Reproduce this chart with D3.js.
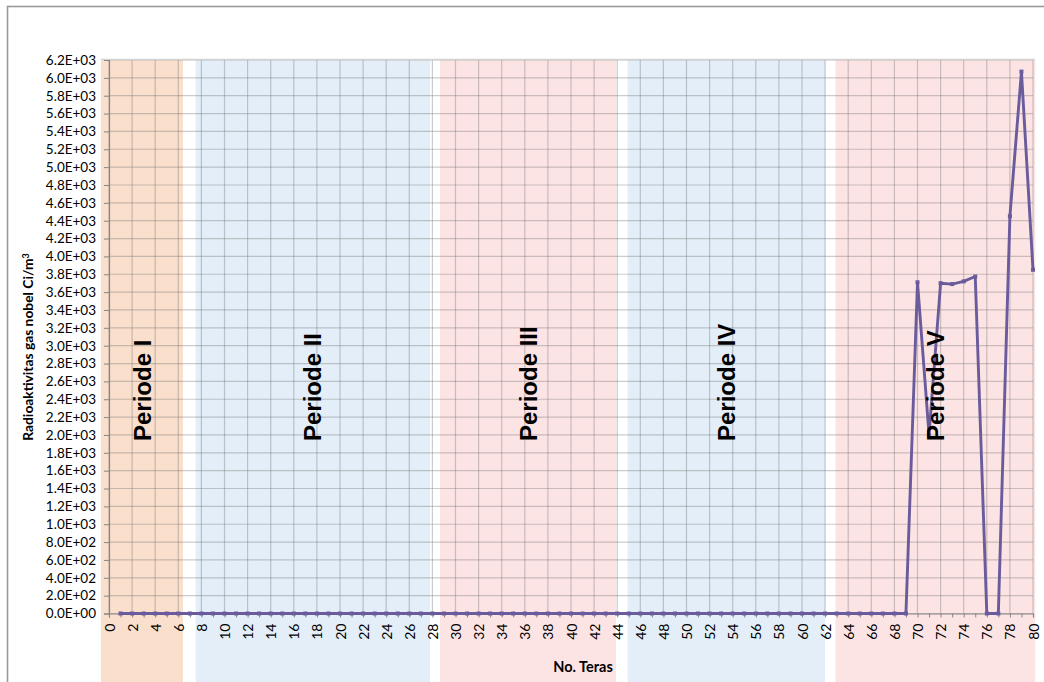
<!DOCTYPE html>
<html>
<head>
<meta charset="utf-8">
<script src="https://cdn.jsdelivr.net/npm/d3@7"></script>
<style>
  html, body { margin: 0; padding: 0; background: #fff; }
  svg { display: block; }
</style>
</head>
<body>
<script>
// Core number (teras) on the x axis
const teras = [
  1, 2, 3, 4, 5, 6, 7, 8, 9, 10, 11, 12, 13, 14, 15, 16, 17, 18, 19, 20,
  21, 22, 23, 24, 25, 26, 27, 28, 29, 30, 31, 32, 33, 34, 35, 36, 37, 38, 39, 40,
  41, 42, 43, 44, 45, 46, 47, 48, 49, 50, 51, 52, 53, 54, 55, 56, 57, 58, 59, 60,
  61, 62, 63, 64, 65, 66, 67, 68, 69, 70, 71, 72, 73, 74, 75, 76, 77, 78, 79, 80
];

// Noble gas radioactivity (Ci/m3) per core
const radioaktivitas = [
  0, 0, 0, 0, 0, 0, 0, 0, 0, 0, 0, 0, 0, 0, 0, 0, 0, 0, 0, 0,
  0, 0, 0, 0, 0, 0, 0, 0, 0, 0, 0, 0, 0, 0, 0, 0, 0, 0, 0, 0,
  0, 0, 0, 0, 0, 0, 0, 0, 0, 0, 0, 0, 0, 0, 0, 0, 0, 0, 0, 0,
  0, 0, 0, 0, 0, 0, 0, 0, 0, 3710, 2000, 3700, 3690, 3720, 3775, 0, 0, 4450, 6070, 3850
];

// Operating periods: label, first and last core covered by the shaded band
const periodNames = ["Periode I", "Periode II", "Periode III", "Periode IV", "Periode V"];
const periodStart = [-0.7, 7.5, 28.65, 44.9, 62.9];
const periodEnd   = [6.4, 27.8, 43.9, 62.0, 80.2];
const periodColors = ["#f9dfcc", "#e3eef8", "#fde4e4", "#e3eef8", "#fde4e4"];

// Axis tick values
const xTickLabels = [0, 2, 4, 6, 8, 10, 12, 14, 16, 18, 20, 22, 24, 26, 28, 30, 32, 34, 36, 38, 40,
  42, 44, 46, 48, 50, 52, 54, 56, 58, 60, 62, 64, 66, 68, 70, 72, 74, 76, 78, 80];
const yTickValues = [0, 200, 400, 600, 800, 1000, 1200, 1400, 1600, 1800, 2000, 2200, 2400, 2600,
  2800, 3000, 3200, 3400, 3600, 3800, 4000, 4200, 4400, 4600, 4800, 5000, 5200, 5400, 5600, 5800,
  6000, 6200];

const W = 1044, H = 682;
const plotL = 109, plotR = 1033, plotT = 60, plotB = 613.5;

const svg = d3.select("body").append("svg")
  .attr("width", W).attr("height", H);

// chart frame
svg.append("rect")
  .attr("x", 7.5).attr("y", 6.5)
  .attr("width", W + 20).attr("height", H + 20)
  .attr("fill", "none").attr("stroke", "#9a9a9a").attr("stroke-width", 1.6);

const x = d3.scaleLinear().domain([0, 80]).range([plotL, plotR]);
const y = d3.scaleLinear().domain([0, 6200]).range([plotB, plotT]);

// shaded period bands, running down past the axis to the page edge
svg.append("g").selectAll("rect")
  .data(periodNames)
  .join("rect")
  .attr("x", (d, i) => x(periodStart[i]))
  .attr("y", plotT)
  .attr("width", (d, i) => x(periodEnd[i]) - x(periodStart[i]))
  .attr("height", H - plotT)
  .attr("fill", (d, i) => periodColors[i]);

// gridlines
const grid = svg.append("g").attr("stroke", "rgba(110,110,110,0.36)").attr("stroke-width", 1.2);
grid.selectAll("line.h")
  .data(yTickValues)
  .join("line").attr("class", "h")
  .attr("x1", plotL).attr("x2", plotR)
  .attr("y1", d => y(d)).attr("y2", d => y(d));
grid.selectAll("line.v")
  .data(xTickLabels)
  .join("line").attr("class", "v")
  .attr("y1", plotT).attr("y2", plotB)
  .attr("x1", d => x(d)).attr("x2", d => x(d));

// plot area top edge
svg.append("line")
  .attr("x1", plotL - 8).attr("x2", plotR + 2)
  .attr("y1", plotT - 0.5).attr("y2", plotT - 0.5)
  .attr("stroke", "#d4d4d4").attr("stroke-width", 1.5);

const fmtSci = v => {
  if (v === 0) return "0.0E+00";
  const e = Math.floor(Math.log10(v));
  const m = v / Math.pow(10, e);
  return m.toFixed(1) + "E+" + String(e).padStart(2, "0");
};

// y axis
const yAxis = svg.append("g")
  .attr("transform", `translate(${plotL},0)`)
  .call(d3.axisLeft(y).tickValues(yTickValues).tickFormat(fmtSci).tickSize(5).tickPadding(8));
yAxis.selectAll("text")
  .attr("font-family", "Lato, 'Open Sans', sans-serif")
  .attr("font-size", 13.5).attr("fill", "#000");

// x axis: a tick at every core, labels on even values
const xAxis = svg.append("g")
  .attr("transform", `translate(0,${plotB})`)
  .call(d3.axisBottom(x).tickValues(d3.range(0, 81)).tickSize(4)
    .tickFormat(d => xTickLabels.includes(d) ? d : ""));
xAxis.selectAll("text")
  .attr("font-family", "Lato, 'Open Sans', sans-serif")
  .attr("font-size", 14).attr("fill", "#000")
  .attr("transform", "rotate(-90)")
  .attr("x", -10).attr("y", 0).attr("dy", "0.36em")
  .attr("text-anchor", "end");

[yAxis, xAxis].forEach(g => {
  g.select(".domain").attr("stroke", "#868686").attr("stroke-width", 1.2);
  g.selectAll(".tick line").attr("stroke", "#868686");
});

// data series
const pts = teras.map((t, i) => [t, radioaktivitas[i]]);
const lineColor = "#6a5b9c";
svg.append("path")
  .datum(pts)
  .attr("fill", "none")
  .attr("stroke", lineColor)
  .attr("stroke-width", 2.9)
  .attr("stroke-linejoin", "round")
  .attr("d", d3.line().x(d => x(d[0])).y(d => y(d[1])));
svg.append("g").selectAll("rect")
  .data(pts)
  .join("rect")
  .attr("x", d => x(d[0]) - 2).attr("y", d => y(d[1]) - 2)
  .attr("width", 4).attr("height", 4)
  .attr("fill", lineColor);

// period labels, centred in each band
svg.append("g").selectAll("text")
  .data(periodNames)
  .join("text")
  .attr("transform", (d, i) => `translate(${x((periodStart[i] + periodEnd[i]) / 2)},441) rotate(-90)`)
  .attr("dy", "0.36em")
  .attr("font-family", "'Liberation Sans', Arial, sans-serif")
  .attr("font-weight", "bold").attr("font-size", 24)
  .attr("fill", "#000")
  .text(d => d);

// axis titles
svg.append("text")
  .attr("x", 583).attr("y", 672)
  .attr("text-anchor", "middle")
  .attr("font-family", "Lato, sans-serif").attr("font-weight", "bold").attr("font-size", 14.5)
  .text("No. Teras");

const yTitle = svg.append("text")
  .attr("transform", "translate(28,347) rotate(-90)")
  .attr("text-anchor", "middle").attr("dy", "0.36em")
  .attr("font-family", "Lato, sans-serif").attr("font-weight", "bold").attr("font-size", 13.8);
yTitle.append("tspan").text("Radioaktivitas gas nobel Ci/m");
yTitle.append("tspan").attr("dy", "-0.45em").attr("font-size", 9).text("3");
</script>
</body>
</html>
